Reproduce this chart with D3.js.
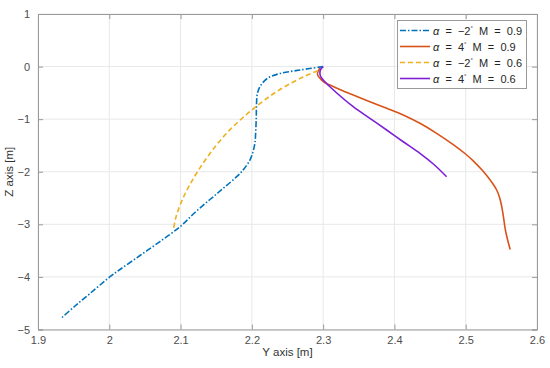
<!DOCTYPE html>
<html><head><meta charset="utf-8">
<script src="https://cdn.jsdelivr.net/npm/d3@7"></script>
<style>body{margin:0;background:#fff;} svg{display:block;font-family:"Liberation Sans",Arial,sans-serif;}</style>
</head><body>
<svg id="c" width="550" height="368"></svg>
<script>
const xTicks = [1.9, 2, 2.1, 2.2, 2.3, 2.4, 2.5, 2.6];
const yTicks = [1, 0, -1, -2, -3, -4, -5];
const blueY = [2.300,2.2675,2.2394,2.2226,2.2128,2.2079,2.2065,2.2062,2.2055,2.2043,2.2015,2.1973,2.1889,2.1787,2.1599,2.1412,2.1202,2.0992,2.0711,2.0431,2.0150,2.0010,1.9729,1.9519,1.9337];
const blueZ = [0.0,-0.065,-0.132,-0.217,-0.350,-0.502,-0.731,-0.959,-1.206,-1.453,-1.625,-1.777,-1.948,-2.094,-2.315,-2.528,-2.775,-3.045,-3.327,-3.593,-3.859,-3.996,-4.316,-4.553,-4.772];
const orangeY = [2.2955,2.2920,2.2955,2.3011,2.3095,2.3250,2.3422,2.3656,2.3891,2.4123,2.4358,2.4592,2.4825,2.4989,2.5105,2.5245,2.5386,2.5438,2.5473,2.5498,2.5519,2.5536,2.5552,2.5575,2.5599,2.5624];
const orangeZ = [-0.027,-0.141,-0.223,-0.293,-0.350,-0.445,-0.541,-0.668,-0.793,-0.921,-1.079,-1.269,-1.484,-1.653,-1.792,-1.992,-2.239,-2.357,-2.480,-2.613,-2.766,-2.918,-3.070,-3.222,-3.355,-3.479];
const yellowY = [2.2927,2.2745,2.2534,2.2324,2.2113,2.1903,2.1693,2.1482,2.1272,2.1132,2.1020,2.0935,2.0898];
const yellowZ = [-0.078,-0.183,-0.326,-0.497,-0.703,-0.937,-1.20,-1.527,-1.927,-2.241,-2.545,-2.864,-3.11];
const purpleY = [2.3001,2.2969,2.2955,2.2962,2.3001,2.3095,2.3422,2.3656,2.3891,2.4123,2.4358,2.4554,2.4732];
const purpleZ = [0,-0.046,-0.103,-0.179,-0.255,-0.383,-0.763,-0.984,-1.206,-1.429,-1.650,-1.862,-2.094];
const seriesAlpha = ["−2", "4", "−2", "4"];
const seriesM = ["0.9", "0.9", "0.6", "0.6"];

const series = [
  {y: blueY, z: blueZ, color: "#0072BD", dash: "6,2,1.5,2"},
  {y: orangeY, z: orangeZ, color: "#D95319", dash: null},
  {y: yellowY, z: yellowZ, color: "#EDB120", dash: "5,3"},
  {y: purpleY, z: purpleZ, color: "#7E1FD8", dash: null}
];

const svg = d3.select("#c");
const L = 38, R = 537, T = 14, B = 329.5;
const x = d3.scaleLinear().domain([1.9, 2.6]).range([L, R]);
const y = d3.scaleLinear().domain([-5, 1]).range([B, T]);

// grid
const g = svg.append("g");
g.selectAll("line.gx").data(xTicks).join("line")
  .attr("x1", d => x(d)).attr("x2", d => x(d)).attr("y1", T).attr("y2", B)
  .attr("stroke", "#e8e8e8").attr("stroke-width", 1);
g.selectAll("line.gy").data(yTicks).join("line")
  .attr("y1", d => y(d)).attr("y2", d => y(d)).attr("x1", L).attr("x2", R)
  .attr("stroke", "#e8e8e8").attr("stroke-width", 1);

// axes
const xAxis = d3.axisBottom(x).tickValues(xTicks).tickSize(-5).tickPadding(8).tickFormat(d3.format("~g"));
const yAxis = d3.axisLeft(y).tickValues(yTicks).tickSize(-5).tickPadding(8).tickFormat(d => d < 0 ? "−" + Math.abs(d) : d);
const ax = svg.append("g").attr("transform", `translate(0,${B})`).call(xAxis);
const ay = svg.append("g").attr("transform", `translate(${L},0)`).call(yAxis);
svg.append("g").attr("transform", `translate(0,${T})`).call(d3.axisTop(x).tickValues(xTicks).tickSize(-5).tickFormat(""));
svg.append("g").attr("transform", `translate(${R},0)`).call(d3.axisRight(y).tickValues(yTicks).tickSize(-5).tickFormat(""));
svg.selectAll(".domain").attr("stroke", "#9a9a9a");
svg.selectAll(".tick line").attr("stroke", "#9a9a9a");
svg.selectAll(".tick text").attr("fill", "#4d4d4d").attr("font-size", 11).attr("font-family", "Liberation Sans, Arial, sans-serif");
ax.selectAll(".tick text").attr("dy", "0.55em");

svg.append("text").attr("x", (L + R) / 2).attr("y", 356).attr("text-anchor", "middle")
  .attr("font-size", 11.5).attr("fill", "#333").text("Y axis [m]");
svg.append("text").attr("transform", `translate(13,${(T + B) / 2}) rotate(-90)`).attr("text-anchor", "middle")
  .attr("font-size", 11.5).attr("fill", "#333").text("Z axis [m]");

// lines
const line = d3.line().x(d => x(d[0])).y(d => y(d[1])).curve(d3.curveCatmullRom.alpha(0.5));
series.forEach(s => {
  const pts = s.y.map((v, i) => [v, s.z[i]]);
  svg.append("path").datum(pts).attr("d", line).attr("fill", "none")
    .attr("stroke", s.color).attr("stroke-width", 1.6)
    .attr("stroke-dasharray", s.dash);
});

// legend
const NB = "\u00A0";
const lg = svg.append("g");
lg.append("rect").attr("x", 397.5).attr("y", 20.5).attr("width", 129).attr("height", 68)
  .attr("fill", "#fff").attr("stroke", "#9a9a9a").attr("stroke-width", 1);
series.forEach((s, i) => {
  const yy = 30.5 + i * 16;
  lg.append("line").attr("x1", 400).attr("x2", 430).attr("y1", yy).attr("y2", yy)
    .attr("stroke", s.color).attr("stroke-width", 1.6).attr("stroke-dasharray", s.dash);
  const t = lg.append("text").attr("x", 433).attr("y", yy + 4).attr("font-size", 11).attr("fill", "#262626");
  t.append("tspan").attr("font-style", "italic").text("α");
  t.append("tspan").text(NB + NB + "=" + NB + NB + seriesAlpha[i]);
  t.append("tspan").attr("font-size", 6).attr("dy", -5).text("°");
  t.append("tspan").attr("dy", 5).text(NB + NB + "M" + NB + NB + "=" + NB + NB + seriesM[i]);
});
</script>
</body></html>
